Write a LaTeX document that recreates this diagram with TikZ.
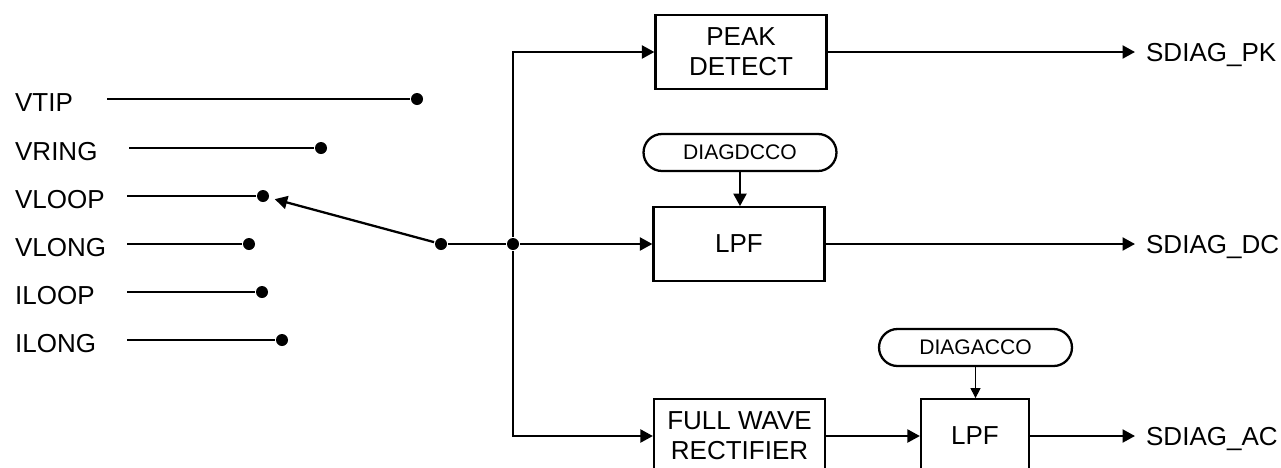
\documentclass[tikz,border=0pt]{standalone}
\usepackage{fontspec}
\setmainfont{Liberation Sans}
\usetikzlibrary{arrows.meta, positioning, calc}

\begin{document}
\begin{tikzpicture}[x=0.02cm, y=-0.02cm, line width=1.3pt,
  font=\fontsize{14.8pt}{17pt}\selectfont,
  blk/.style={draw, minimum width=3.42cm, minimum height=1.47cm, align=center, inner sep=0pt},
  ctrl/.style={draw, rounded corners=0.37cm, minimum width=3.86cm, minimum height=0.74cm,
    inner sep=0pt, font=\fontsize{12pt}{14pt}\selectfont},
  dot/.style={circle, fill, inner sep=0pt, minimum size=0.24cm},
  sig/.style={inner sep=0pt, text height=10.6pt, text depth=0pt, anchor=west},
  arr/.style={-{Triangle[length=0.25cm, width=0.26cm]}}]
  \path[fill=white, use as bounding box] (0,0) rectangle (1281,467);
  \clip (0,0) rectangle (1281,467);

  \foreach \nm/\y/\xa/\xb in {VTIP/99/107/417, VRING/148/129/321, VLOOP/196/127/263,
                              VLONG/244/127/249, ILOOP/292/127/262, ILONG/340/127/282}{
    \node[sig] (\nm) at (14,\y+3) {\nm};
    \coordinate (\nm-a) at (\xa,\y);
    \node[dot] (\nm-d) at (\xb,\y) {};
    \draw (\nm-a) -- (\nm-d);
  }

  \node[dot] (sw) at (441,244) {};
  \node[dot] (jn) at (513,244) {};
  \node[blk] (peak)  at (741,52) {PEAK\\DETECT};
  \node[blk] (lpfdc) at (739,244) {LPF};
  \node[blk] (fwr)   at (739.5,436) {FULL WAVE\\RECTIFIER};
  \node[blk, minimum width=2.16cm] (lpfac) at (975,436) {LPF};
  \node[ctrl] (dcco) at (740,152.5) {DIAGDCCO};
  \node[ctrl] (acco) at (975.5,347.5) {DIAGACCO};
  \node[sig, inner xsep=0.2cm] (pk) at (1135,52) {SDIAG\_PK};
  \node[sig, inner xsep=0.2cm] (dc) at (1135,244) {SDIAG\_DC};
  \node[sig, inner xsep=0.2cm] (ac) at (1135,436) {SDIAG\_AC};

  \draw[arr, shorten >=0.1cm] (sw) -- (VLOOP-d);
  \draw (sw) -- (jn);
  \draw[arr] (jn) |- (peak.west);
  \draw[arr] (jn) -- (lpfdc.west);
  \draw[arr] (jn) |- (fwr.west);
  \draw[arr] (fwr) -- (lpfac);
  \draw[arr] (dcco.south) -- (dcco.south |- lpfdc.north);
  \draw[line width=0.6pt, -{Triangle[length=0.2cm, width=0.2cm]}] (acco.south) -- (acco.south |- lpfac.north);
  \draw[arr] (peak.east) -- (pk.west);
  \draw[arr] (lpfdc.east) -- (dc.west);
  \draw[arr] (lpfac.east) -- (ac.west);
\end{tikzpicture}
\end{document}
